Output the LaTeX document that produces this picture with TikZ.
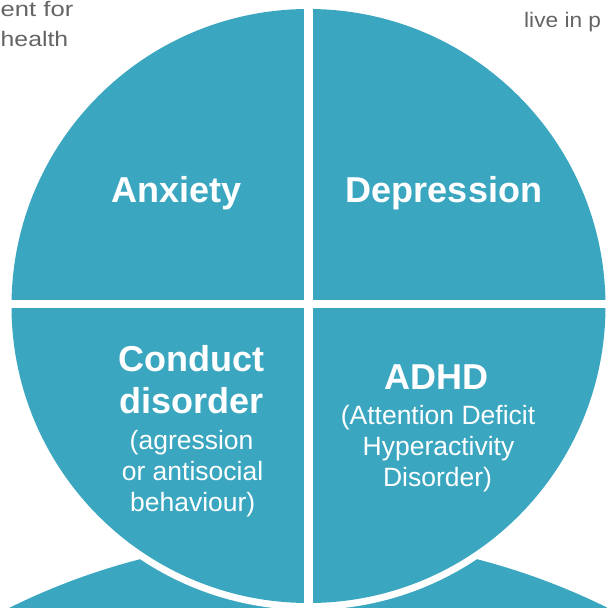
\documentclass[tikz,border=0pt]{standalone}
\usepackage{fontspec}
\setmainfont{Liberation Sans}
\definecolor{tealfill}{RGB}{58,166,192}
\definecolor{graytxt}{RGB}{100,100,100}
\begin{document}
\begin{tikzpicture}[x=1pt,y=-1pt,
  boldlbl/.style={font=\fontsize{36}{40}\selectfont\bfseries, text=white, inner sep=0pt, anchor=base},
  sublbl/.style={font=\fontsize{26.5}{31}\selectfont, text=white, inner sep=0pt, anchor=base},
  sidelbl/.style={font=\fontsize{21}{25}\selectfont, text=graytxt, inner sep=0pt, anchor=base west}]
\useasboundingbox (0,0) rectangle (607,608);
\clip (0,0) rectangle (607,608);
% lower circles (partly visible)
\fill[tealfill] (308.5,1212) circle [radius=674pt];
% main circle with white rim
\fill[white] (308.5,306) circle [radius=304pt];
\fill[tealfill] (308.5,306) circle [radius=297pt];
% quadrant gaps
\fill[white] (304,0) rectangle (313,608);
\fill[white] (0,300) rectangle (607,308);
% labels
\node[boldlbl] (anx) at (176.7,202) {Anxiety};
\node[boldlbl] (dep) at (444,202) {Depression};
\node[boldlbl] (con1) at (191.7,371.5) {Conduct};
\node[boldlbl] (con2) at (191.7,413.5) {disorder};
\node[sublbl] (con3) at (191.6,449) {(agression};
\node[sublbl] (con4) at (192.5,480) {or antisocial};
\node[sublbl] (con5) at (192.7,511) {behaviour)};
\node[boldlbl] (adhd) at (436.5,389) {ADHD};
\node[sublbl] (adhd1) at (438,424) {(Attention Deficit};
\node[sublbl] (adhd2) at (438.5,455) {Hyperactivity};
\node[sublbl] (adhd3) at (437.5,486) {Disorder)};
% surrounding text fragments
\node[sidelbl] (t1) at (0.5,16.5) {\scalebox{1.22}[1]{ent for}};
\node[sidelbl] (t2) at (0.5,46.5) {\scalebox{1.18}[1]{health}};
\node[sidelbl] (t3) at (524,27) {\scalebox{1.08}[1]{live in p}};
\end{tikzpicture}
\end{document}
